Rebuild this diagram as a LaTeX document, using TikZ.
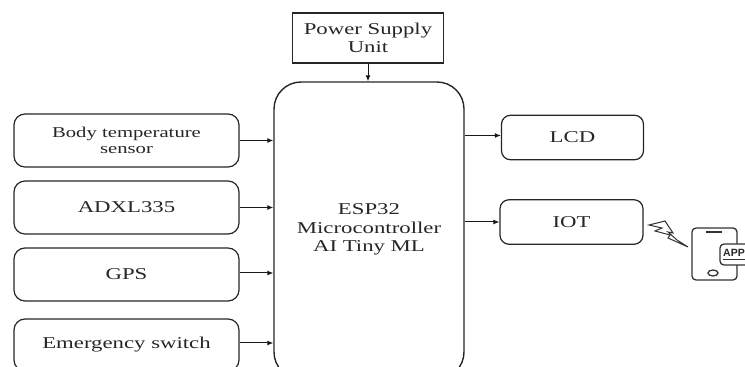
\documentclass[tikz,border=0pt]{standalone}
\usepackage{fontspec}
\setmainfont[FakeStretch=1.38]{Liberation Serif}
\newfontfamily\appfont{Liberation Sans}
\usetikzlibrary{arrows}
\usetikzlibrary{arrows.meta}
\tikzset{
	edge/.style={-{Latex[length=6pt,width=5pt]}, line width=1pt, black!90},
	blockbox/.style={draw=black!85, line width=1.2pt, align=center, font=\fontsize{16.5}{18.5}\selectfont, text=black!85, inner sep=0pt},
	inputbox/.style={blockbox, rounded corners=11pt, minimum width=225pt},
	outputbox/.style={blockbox, rounded corners=9pt, minimum width=142pt, minimum height=44.5pt},
	phoneline/.style={draw=black!80, line width=1.3pt}
}

\begin{document}
\begin{tikzpicture}[x=1pt, y=1pt]
\useasboundingbox (0, 0) rectangle (745, 367);
\clip (0, 0) rectangle (745, 367);
\node[blockbox, minimum width=151pt, minimum height=50pt] (PSU) at (368, 329) {Power Supply\\Unit};
\node[blockbox, line width=1.4pt, rounded corners=27pt, minimum width=190pt, minimum height=297pt,
	label={[align=center, font=\fontsize{16.5}{18.5}\selectfont, text=black!85, inner sep=0pt, yshift=1pt]center:ESP32\\Microcontroller\\AI Tiny ML}] (ESP) at (369, 136.5) {};
\node[inputbox, minimum height=53pt, font=\fontsize{15}{16}\selectfont] (BODY) at (126.5, 226.5) {Body temperature\\sensor};
\node[inputbox, minimum height=53pt] (ADXL) at (126.5, 159.5) {ADXL335};
\node[inputbox, minimum height=53pt] (GPS) at (126.5, 92.5) {GPS};
\node[inputbox, minimum height=52pt] (SW) at (126.5, 22) {Emergency switch};
\node[outputbox] (LCD) at (572.5, 229.5) {LCD};
\node[outputbox, minimum width=143pt] (IOT) at (571.5, 145) {IOT};

\draw[edge] (PSU.south) to (PSU.south |- ESP.north);
\draw[edge] (BODY.east) to (BODY.east -| ESP.west);
\draw[edge] (ADXL.east) to (ADXL.east -| ESP.west);
\draw[edge] ([yshift=1.5pt]GPS.east) to ([yshift=1.5pt]GPS.east -| ESP.west);
\draw[edge] ([yshift=2pt]SW.east) to ([yshift=2pt]SW.east -| ESP.west);
\draw[edge] ([yshift=2pt]LCD.west -| ESP.east) to ([yshift=2pt]LCD.west);
\draw[edge] (IOT.west -| ESP.east) to (IOT.west);

% phone and signal
\draw[phoneline, line width=1pt, fill=white, line join=miter] (649, 142) -- (665, 146) -- (673, 134) -- (668, 135) -- (677, 127) -- (688, 120) -- (668, 129) -- (670, 132) -- (655, 136) -- (662, 139) -- cycle;
\draw[phoneline, rounded corners=4pt] (692, 139) rectangle (737, 87);
\draw[phoneline] (706, 135) -- (722, 135);
\draw[phoneline] (713, 94) ellipse (5 and 3);
\draw[phoneline, fill=white, rounded corners=4pt] (720, 123) rectangle (760, 102);
\node[inner sep=0pt, anchor=west, font=\appfont\bfseries\fontsize{10.5}{10.5}\selectfont, text=black!85] (APP) at (723, 114) {APP};
\draw[phoneline, line width=1pt] (723, 107) -- (745, 107);
\end{tikzpicture}
\end{document}
